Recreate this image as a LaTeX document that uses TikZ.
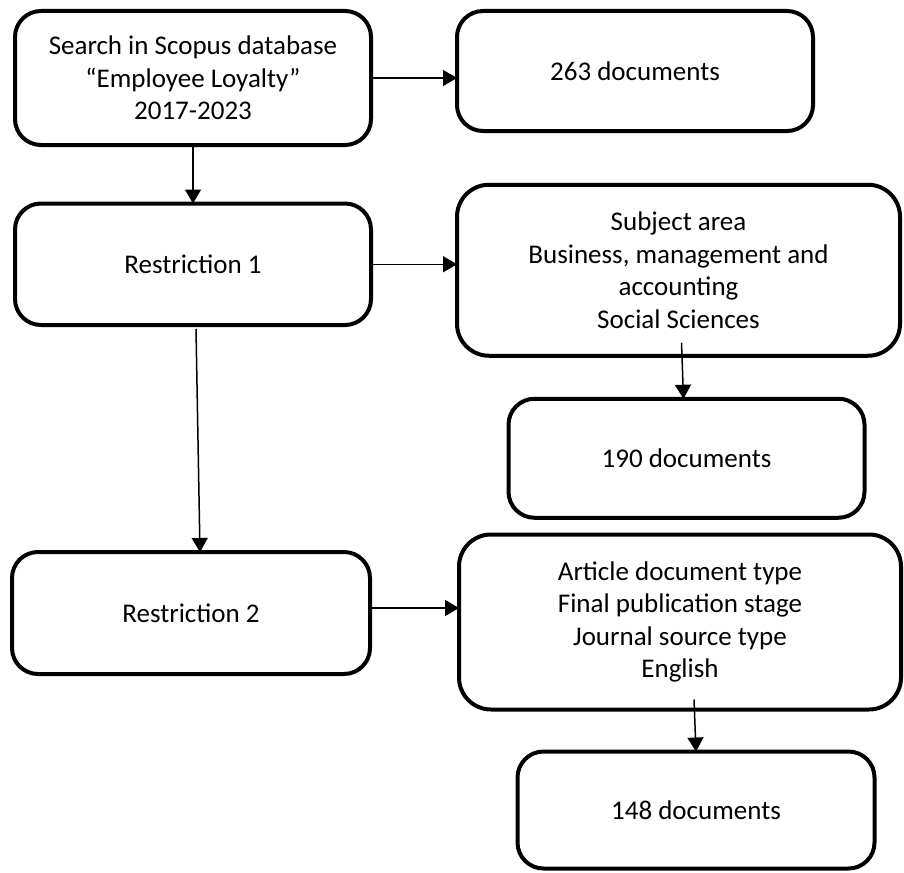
\documentclass[tikz,border=0pt]{standalone}
\usepackage{fontspec}
\setmainfont{Carlito}
\usetikzlibrary{positioning,arrows.meta}

\begin{document}
\begin{tikzpicture}[>={Triangle[length=14pt,width=16pt]},font=\fontsize{27}{32.5}\selectfont]
\tikzstyle{block}=[draw,rounded corners=26pt,line width=4pt,align=center,outer sep=0pt,minimum width=356pt]
\tikzstyle{bigblock}=[block,rounded corners=32pt,minimum width=443pt]
\tikzstyle{link}=[->,line width=1.5pt]

\useasboundingbox (0,0) rectangle (904pt,-872pt);

\node[block,minimum height=134pt] (search) at (193pt,-78pt) {Search in Scopus database\\“Employee Loyalty”\\2017-2023};
\node[block,minimum height=120pt,right=86pt of search,yshift=7pt] (n263) {263 documents};

\node[block,minimum height=121.5pt,below=58.5pt of search] (restr1) {Restriction 1};
\node[bigblock,minimum height=171pt,right=86pt of restr1,yshift=-6pt] (subject) {Subject area\\Business, management and\\accounting\\Social Sciences};
\node[block,minimum height=119pt,below=43pt of subject,xshift=8pt] (n190) {190 documents};

\node[block,minimum width=358pt,minimum height=122pt,below=227pt of restr1,xshift=-2pt] (restr2) {Restriction 2};
\node[bigblock,minimum width=442pt,minimum height=175pt,right=89pt of restr2,yshift=-9pt] (criteria) {Article document type\\Final publication stage\\Journal source type\\English};
\node[block,minimum width=357pt,minimum height=117pt,below=42pt of criteria,xshift=16pt] (n148) {148 documents};

\draw[link] (search.east) -- (search.east -| n263.west);
\draw[link] (search) -- (restr1);
\draw[link] (restr1.east) -- (restr1.east -| subject.west);
\draw[link] ([xshift=3pt,yshift=-4pt]restr1.south) -- ([xshift=9pt]restr2.north);
\draw[link] ([xshift=3pt,yshift=13pt]subject.south) -- ([xshift=-3pt]n190.north);
\draw[link] ([yshift=5pt]restr2.east) -- ([yshift=5pt]restr2.east -| criteria.west);
\draw[link] ([xshift=14pt,yshift=10pt]criteria.south) -- (n148.north);
\end{tikzpicture}
\end{document}
